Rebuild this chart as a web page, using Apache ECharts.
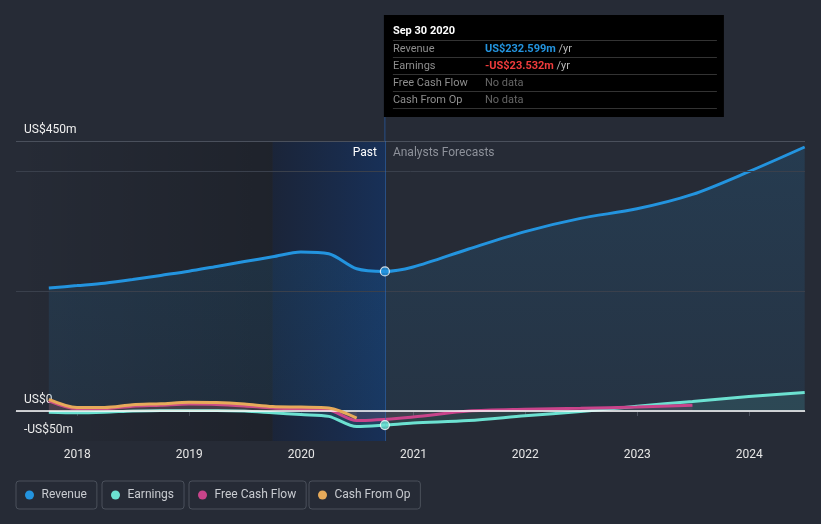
<!DOCTYPE html>
<html><head><meta charset="utf-8">
<script src="https://cdn.jsdelivr.net/npm/echarts@6/dist/echarts.min.js"></script>
<style>html,body{margin:0;padding:0;background:#262b36;}#c{width:821px;height:524px;}</style>
</head><body><div id="c"></div>
<script>
// ---- data ----
const revenueDates = ['2017-09-30','2017-12-31','2018-03-31','2018-06-30','2018-09-30','2018-12-31','2019-03-31','2019-06-30','2019-09-30','2019-12-31','2020-03-31','2020-06-30','2020-09-30','2020-12-31','2021-06-30','2021-12-31','2022-06-30','2022-12-31','2023-06-30','2023-12-31','2024-06-30'];
const revenueValues = [205,209,213,219,226,233,241,249,257,265,262,237,232.599,240,270,299,321,337,361,399,440];
const earningsDates = revenueDates;
const earningsValues = [-2,-3,-2,0,1,1,1,0,-3,-6,-9,-26,-23.532,-20,-16,-8,-1,8,16,24,31];
const fcfDates = ['2017-09-30','2017-12-31','2018-03-31','2018-06-30','2018-09-30','2018-12-31','2019-03-31','2019-06-30','2019-09-30','2019-12-31','2020-03-31','2020-06-30','2020-12-31','2021-06-30','2021-12-31','2022-06-30','2022-12-31','2023-06-30'];
const fcfValues = [17,4,4,8,9.5,11.5,11,8.5,5,3.5,1.5,-16,-10,0,3,4.5,6.5,9.5];
const cfoDates = ['2017-09-30','2017-12-31','2018-03-31','2018-06-30','2018-09-30','2018-12-31','2019-03-31','2019-06-30','2019-09-30','2019-12-31','2020-03-31','2020-06-30'];
const cfoValues = [19.5,6,6,10.5,12,14.5,14,11.5,7.5,6.5,5,-12];
const yearTicks = ['2018-01-01','2019-01-01','2020-01-01','2021-01-01','2022-01-01','2023-01-01','2024-01-01'];
const yTicks = [-50, 0, 450];
const yTickLabels = {'-50':'-US$50m','0':'US$0','450':'US$450m'};
const gridValues = [200, 400, 450];
const currentDate = '2020-09-30';
const pastStart = '2019-09-30';
const axisStart = '2017-06-15', axisEnd = '2024-07-01';
const seriesNames = ['Revenue','Earnings','Free Cash Flow','Cash From Op'];
const seriesColors = ['#2394df','#6ce1d1','#c9448b','#e6aa5a'];

const pd = s => echarts.number.parseDate(s).getTime();
const zip = (d, v) => d.map((x, i) => [pd(x), v[i]]);
const FONT = 'Roboto, "Noto Sans", sans-serif';

const chart = echarts.init(document.getElementById('c'), null, {renderer:'canvas'});

function lineSeries(i, dates, vals, area, extra) {
  return Object.assign({
    name: seriesNames[i], type:'line', data: zip(dates, vals),
    smooth: 0.3, symbol:'none', silent:true,
    lineStyle:{color: seriesColors[i], width: 3},
    itemStyle:{color: seriesColors[i]},
    areaStyle: area,
    z: 2 + i
  }, extra || {});
}

const option = {
  backgroundColor:'#262b36',
  animation:false,
  textStyle:{fontFamily: FONT},
  grid:{left:16, right:16, top:141, bottom:83},
  xAxis:{
    type:'value', min: pd(axisStart), max: pd(axisEnd),
    axisLine:{show:true, lineStyle:{color:'#4a505c', width:1}},
    axisTick:{show:true, length:5, lineStyle:{color:'#4a505c'}, customValues: yearTicks.map(pd)},
    axisLabel:{color:'#e6e6e6', fontSize:12, margin:8, customValues: yearTicks.map(pd),
      formatter: v => String(new Date(v).getFullYear())},
    splitLine:{show:false}
  },
  yAxis:{
    type:'value', min:-50, max:450,
    axisLine:{show:false}, axisTick:{show:false}, splitLine:{show:false},
    axisLabel:{inside:true, margin:8, color:'#f0f0f0', fontSize:12, verticalAlign:'bottom', padding:[0,0,5,0],
      customValues: yTicks, formatter: v => yTickLabels[String(v)] || ''}
  },
  legend: seriesNames.map((n, i) => ({
    data:[n], left:[16,102,189,309][i], top:481,
    icon:'circle', itemWidth:14, itemHeight:9,
    borderColor:'#4a505b', borderWidth:1, borderRadius:3,
    padding:[8,10,8,9],
    textStyle:{color:'#c8cbd0', fontSize:12, fontFamily: FONT},
    selectedMode:false
  })),
  series:[
    lineSeries(0, revenueDates, revenueValues, {
      color:{type:'linear',x:0,y:0,x2:0,y2:1,colorStops:[{offset:0,color:'rgba(35,148,223,0.22)'},{offset:1,color:'rgba(35,148,223,0.12)'}]}
    }, {
      markArea:{silent:true, data:[
        [{xAxis: pd(axisStart), itemStyle:{color:{type:'linear',x:0,y:0,x2:1,y2:0,colorStops:[{offset:0,color:'rgba(0,0,0,0)'},{offset:1,color:'rgba(0,0,0,0.2)'}]}}}, {xAxis: pd(pastStart)}],
        [{xAxis: pd(pastStart), itemStyle:{color:{type:'linear',x:0,y:0,x2:1,y2:0,colorStops:[{offset:0,color:'rgba(15,30,60,0.5)'},{offset:1,color:'rgba(12,52,115,0.55)'}]}}}, {xAxis: pd(currentDate)}]
      ]},
      markLine:{silent:true, symbol:'none', label:{show:false},
        data: gridValues.map(v => ({yAxis:v, lineStyle:{color: v===450 ? '#4a505c' : '#3a404c', width:1, type:'solid'}}))
          .concat([{xAxis: pd(currentDate), lineStyle:{color:'rgba(40,110,200,0.55)', width:1, type:'solid'}}])
      }
    }),
    lineSeries(1, earningsDates, earningsValues, {color:'rgba(108,225,209,0.16)'}),
    lineSeries(2, fcfDates, fcfValues, {color:'rgba(201,68,139,0.18)'}),
    lineSeries(3, cfoDates, cfoValues, {color:'rgba(230,170,90,0.14)'}, {
      markLine:{silent:true, symbol:'none', label:{show:false},
        data:[{yAxis:0, lineStyle:{color:'#ffffff', width:1.5, type:'solid'}}]}
    }),
    {
      type:'scatter', silent:true, z:10,
      data:[
        {value:[pd(currentDate), revenueValues[revenueDates.indexOf(currentDate)]], itemStyle:{color:seriesColors[0]}},
        {value:[pd(currentDate), earningsValues[earningsDates.indexOf(currentDate)]], itemStyle:{color:seriesColors[1]}}
      ],
      symbol:'circle', symbolSize:9,
      itemStyle:{borderColor:'#ffffff', borderWidth:1.2}
    }
  ]
};
chart.setOption(option);

// tooltip-like panel and labels
const cx = chart.convertToPixel({xAxisIndex:0}, pd(currentDate));
const gridTop = 141;
const revNow = revenueValues[revenueDates.indexOf(currentDate)];
const earnNow = earningsValues[earningsDates.indexOf(currentDate)];
const fmt = v => (v < 0 ? '-' : '') + 'US$' + Math.abs(v).toFixed(3) + 'm';
const tx = cx - 1, ty = 15, tw = 340, th = 102;
const rows = [
  ['Revenue', '{b|' + fmt(revNow) + '} {y|/yr}'],
  ['Earnings', '{r|' + fmt(earnNow) + '} {y|/yr}'],
  ['Free Cash Flow', '{n|No data}'],
  ['Cash From Op', '{n|No data}']
];
const g = [
  {type:'line', shape:{x1:cx, y1:ty+th, x2:cx, y2:gridTop}, style:{stroke:'rgba(40,110,200,0.55)', lineWidth:1}, silent:true},
  {type:'rect', shape:{x:tx, y:ty, width:tw, height:th}, style:{fill:'#000'}, silent:true},
  {type:'text', x:tx+9, y:ty+16, style:{text: 'Sep 30 2020', fill:'#fff', font:'bold 11px ' + FONT, verticalAlign:'middle'}, silent:true},
  {type:'text', x:cx-8, y:153, style:{text:'Past', fill:'#ffffff', font:'12px ' + FONT, align:'right', verticalAlign:'middle'}, silent:true},
  {type:'text', x:cx+8, y:153, style:{text:'Analysts Forecasts', fill:'#8d919a', font:'12px ' + FONT, align:'left', verticalAlign:'middle'}, silent:true}
];
[40.5, 57.5, 74.5, 91.5, 108.5].forEach(y => g.push({type:'line', shape:{x1:tx+9, y1:y, x2:tx+333, y2:y}, style:{stroke:'#333', lineWidth:1}, silent:true}));
rows.forEach((r, i) => {
  const y = 49 + i * 17;
  g.push({type:'text', x:tx+9, y:y, style:{text:r[0], fill:'#8e8e8e', font:'11px ' + FONT, verticalAlign:'middle'}, silent:true});
  g.push({type:'text', x:tx+101, y:y, style:{text:r[1], verticalAlign:'middle', font:'11px ' + FONT,
    rich:{
      b:{fill:'#2394df', fontWeight:'bold', fontSize:11, fontFamily:FONT},
      r:{fill:'#f03c3c', fontWeight:'bold', fontSize:11, fontFamily:FONT},
      y:{fill:'#b8b8b8', fontSize:11, fontFamily:FONT},
      n:{fill:'#666666', fontSize:11, fontFamily:FONT}
    }}, silent:true});
});
g.forEach(e => { e.z = 100; });
chart.setOption({graphic: g});
</script></body></html>
